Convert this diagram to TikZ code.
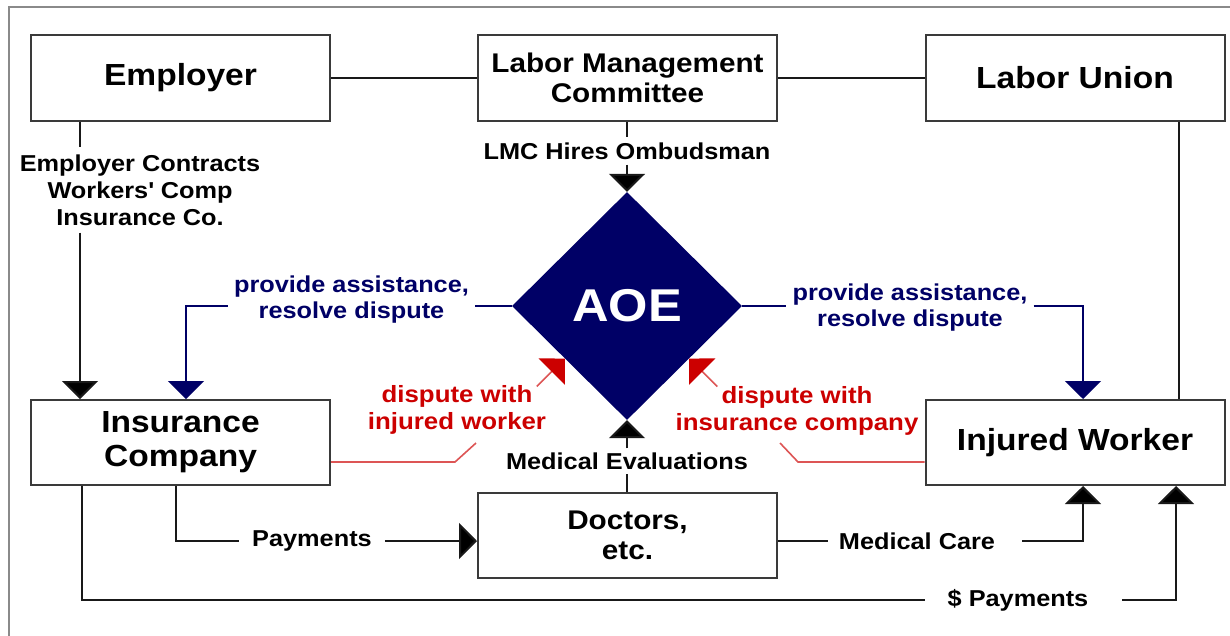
\documentclass[tikz,border=0pt]{standalone}
\usepackage{fontspec}
\setmainfont{Liberation Sans}[FakeStretch=1.1]
\usetikzlibrary{arrows.meta,shapes.geometric,calc}
\definecolor{navy}{HTML}{000066}
\definecolor{dred}{HTML}{CC0000}
\definecolor{lred}{HTML}{DD5555}
\definecolor{boxc}{HTML}{3A3A3A}
\definecolor{framec}{HTML}{8A8A8A}
\begin{document}
\begin{tikzpicture}[x=1pt,y=-1pt,
  box/.style={draw=boxc,line width=2pt,fill=white,inner sep=0pt,align=center,
    minimum width=299pt,minimum height=86pt},
  bigtxt/.style={font=\bfseries\fontsize{30.5}{34}\selectfont},
  midtxt/.style={font=\bfseries\fontsize{27}{30.5}\selectfont},
  lbl/.style={font=\bfseries\fontsize{23}{27}\selectfont,align=center,inner xsep=6pt,inner ysep=5pt},
  bluelbl/.style={lbl,text=navy,font=\bfseries\fontsize{23}{26}\selectfont},
  redlbl/.style={lbl,text=dred,font=\bfseries\fontsize{23.5}{26.5}\selectfont},
  conn/.style={line width=2pt,draw=black!90},
  bluec/.style={line width=1.6pt,draw=navy},
  redc/.style={line width=1.6pt,draw=lred},
  arr/.style={-{Triangle[width=36pt,length=18pt,fill=black]}},
  arrblue/.style={-{Triangle[width=36pt,length=18pt,fill=navy,color=navy]}},
  arrred/.style={-{Triangle[width=37pt,length=18.5pt,fill=dred,color=dred]}}
]
\useasboundingbox (0,0) rectangle (1230,635);
\clip (0,0) rectangle (1230,635);
\fill[white] (0,0) rectangle (1230,635);
\draw[framec,line width=2pt] (9,660) -- (9,7) -- (1260,7);

% column helpers
\coordinate (cA) at (80,0);
\coordinate (cB) at (186,0);
\coordinate (cC) at (1083,0);
\coordinate (cLU) at (1179,0);
\coordinate (cP) at (176,0);
\coordinate (cD) at (82,0);
\coordinate (cE) at (1176,0);

% boxes
\node[box,bigtxt] (emp) at (180.5,78) {Employer};
\node[box,midtxt] (lmc) at (627.5,78) {Labor Management\\Committee};
\node[box,bigtxt] (lu) at (1075,78) {Labor Union};
\node[box,bigtxt,minimum height=85pt] (ins) at (180.5,442.5) {Insurance\\Company};
\node[box,bigtxt,minimum height=85pt] (iw) at (1075,442.5) {Injured Worker};
\node[box,midtxt,minimum height=85pt] (doc) at (627.5,535.5) {Doctors,\\etc.};

% AOE diamond
\node[diamond,fill=navy,inner sep=0pt,minimum width=230pt,minimum height=228pt,
  text=white,font=\bfseries\fontsize{46}{50}\selectfont] (aoe) at (627,306) {AOE};

% top connections
\draw[conn] (emp.east) -- (lmc.west);
\draw[conn] (lmc.east) -- (lu.west);
\draw[conn] (lu.south -| cLU) -- (iw.north -| cLU);

% employer contracts
\node[lbl,inner ysep=7pt] (ec) at (140,190) {Employer Contracts\\Workers\textquotesingle{} Comp\\Insurance Co.};
\draw[conn] (emp.south -| cA) -- (ec.north -| cA);
\draw[conn,arr] (ec.south -| cA) -- (ins.north -| cA);

% LMC hires ombudsman
\node[lbl,inner ysep=5pt] (lh) at (627,151) {LMC Hires Ombudsman};
\draw[conn] (lmc.south -| aoe.north) -- (lh.north -| aoe.north);
\draw[conn,arr] (lh.south -| aoe.north) -- (aoe.north);

% medical evaluations
\node[lbl,inner ysep=4pt] (me) at (627,461) {Medical Evaluations};
\draw[conn] (doc.north -| aoe.south) -- (me.south -| aoe.south);
\draw[conn,arr] (me.north -| aoe.south) -- (aoe.south);

% blue assistance left
\node[bluelbl] (bl) at (351.5,300) {provide assistance,\\resolve dispute};
\draw[bluec] (aoe.west) -- (aoe.west -| bl.east);
\draw[bluec,arrblue] (aoe.west -| bl.west) -| (ins.north -| cB);

% blue assistance right
\node[bluelbl] (br) at (910,308) {provide assistance,\\resolve dispute};
\draw[bluec] (aoe.east) -- (aoe.east -| br.west);
\draw[bluec,arrblue] (aoe.east -| br.east) -| (iw.north -| cC);

% red dispute left
\node[redlbl] (rl) at (457,410) {dispute with\\injured worker};
\coordinate (rlA) at (476,443);
\coordinate (rlB) at (455,462);
\coordinate (rlTip) at ($(aoe.west)!0.46!(aoe.south)$);
\coordinate (rlTail) at ($(rlTip)+(-28,28)$);
\draw[redc] (ins.east |- rlB) -- (rlB) -- (rlA);
\draw[redc,arrred] (rlTail) -- (rlTip);

% red dispute right
\node[redlbl] (rr) at (797,411) {dispute with\\insurance company};
\coordinate (rrA) at (780,443);
\coordinate (rrB) at (798,462);
\coordinate (rrTip) at ($(aoe.east)!0.46!(aoe.south)$);
\coordinate (rrTail) at ($(rrTip)+(28,28)$);
\draw[redc] (iw.west |- rrB) -- (rrB) -- (rrA);
\draw[redc,arrred] (rrTail) -- (rrTip);

% payments to doctors
\node[lbl,inner xsep=13pt] (pay) at (312,541) {Payments};
\draw[conn] (ins.south -| cP) |- (pay.west);
\draw[conn,arr] (pay.east) -- (doc.west |- pay.east);

% medical care
\node[lbl] (mc) at (917,541) {Medical Care};
\coordinate (mcL) at (828,541);
\coordinate (mcR) at (1022,541);
\draw[conn] (doc.east |- mcL) -- (mcL);
\draw[conn,arr] (mcR) -| (iw.south -| cC);

% $ payments
\node[lbl] (dp) at (1018,600) {\$ Payments};
\coordinate (dpL) at (925,600);
\coordinate (dpR) at (1122,600);
\draw[conn] (ins.south -| cD) |- (dpL);
\draw[conn,arr] (dpR) -| (iw.south -| cE);
\end{tikzpicture}
\end{document}
